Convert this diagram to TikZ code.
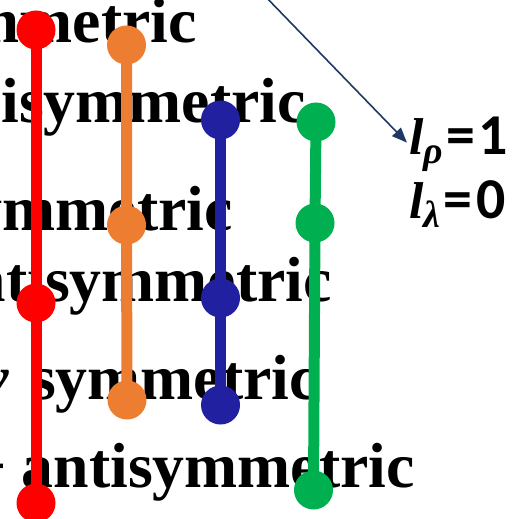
\documentclass[tikz,border=0pt]{standalone}
\usepackage{fontspec}
\setmainfont{Liberation Serif}
\newfontfamily\lblfont{Carlito}
\usetikzlibrary{arrows.meta}
\definecolor{cred}{RGB}{255,0,0}
\definecolor{corange}{RGB}{237,125,49}
\definecolor{cblue}{RGB}{32,32,160}
\definecolor{cgreen}{RGB}{0,176,80}
\definecolor{carrow}{RGB}{31,56,100}
\begin{document}
\begin{tikzpicture}[x=1bp,y=-1bp,
  word/.style={anchor=base east, inner sep=0, font=\fontsize{64}{64}\selectfont\bfseries},
  dot/.style={circle, fill=#1, minimum size=39bp, inner sep=0},
  stick/.style={draw=#1, line width=11bp},
  lbl/.style={anchor=base west, inner sep=0},
]
\useasboundingbox (0,0) rectangle (512,519);
\clip (0,0) rectangle (512,519);
% text lines
\node[word] (t1) at (197,43) {mmetric};
\node[word] (t2) at (306,123) {isymmetric};
\node[word] (t3) at (233,230) {ymmetric};
\node[word] (t4) at (332,301) {ntisymmetric};
\node[word] (t5a) at (9,399) {\itshape v};
\node[word] (t5) at (318,399) {symmetric};
\node[word] (t6a) at (7,487) {+};
\node[word] (t6) at (415,487) {antisymmetric};
% sticks
\node[dot=cred] (r1) at (36,30) {};
\node[dot=cred] (r2) at (36,303) {};
\node[dot=cred] (r3) at (36,503) {};
\draw[stick=cred] (r1.center) -- (r2.center) -- (r3.center);
\node[dot=corange] (o1) at (126.5,45) {};
\node[dot=corange] (o2) at (126.5,225) {};
\node[dot=corange] (o3) at (127,400) {};
\draw[stick=corange] (o1.center) -- (o2.center) -- (o3.center);
\node[dot=cblue] (b1) at (220.5,120) {};
\node[dot=cblue] (b2) at (220.5,298) {};
\node[dot=cblue] (b3) at (220.5,405) {};
\draw[stick=cblue] (b1.center) -- (b2.center) -- (b3.center);
\node[dot=cgreen] (g1) at (316,122) {};
\node[dot=cgreen] (g2) at (315,223) {};
\node[dot=cgreen] (g3) at (313.5,490) {};
\draw[stick=cgreen] (g1.center) -- (g2.center) -- (g3.center);
% labels
\node[lbl] (lrho) at (409,155) {\fontsize{52}{52}\selectfont\bfseries\itshape l\raisebox{-9bp}{\fontsize{38}{38}\selectfont ρ}\lblfont\upshape\fontsize{58}{58}\selectfont\hspace{3bp}=\hspace{4bp}1};
\node[lbl] (llam) at (409,218) {\fontsize{52}{52}\selectfont\bfseries\itshape l\raisebox{-9bp}{\fontsize{38}{38}\selectfont λ}\lblfont\upshape\fontsize{58}{58}\selectfont\hspace{3bp}=\hspace{4bp}0};
% arrow
\coordinate (astart) at (261,-8);
\draw[carrow, line width=1.6bp, -{Triangle[length=15bp,width=12bp]}, shorten >=3bp] (astart) -- (lrho.west);
\end{tikzpicture}
\end{document}
